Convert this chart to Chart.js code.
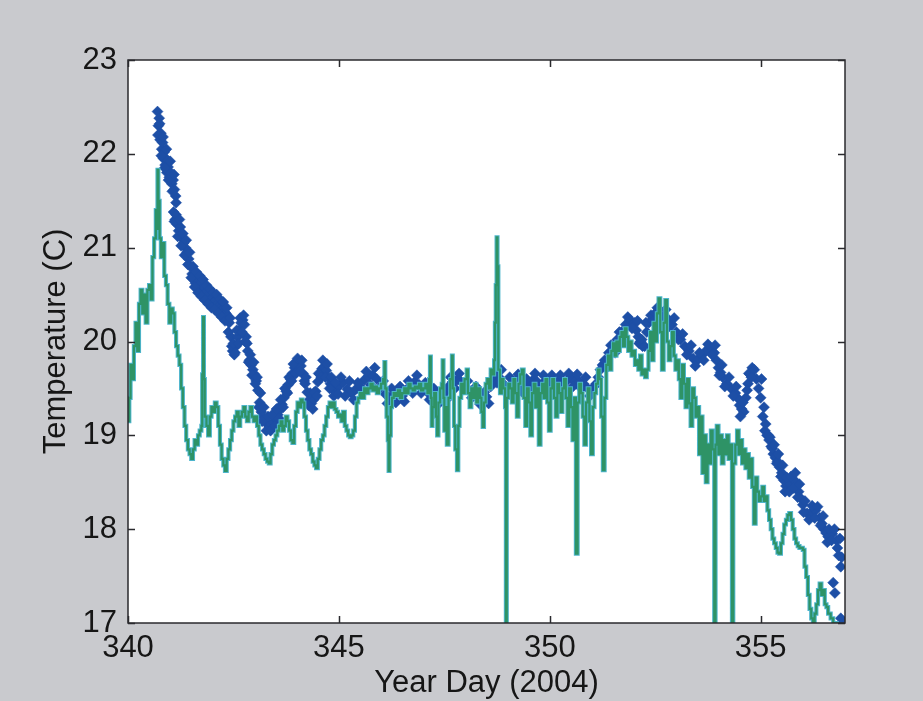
<!DOCTYPE html>
<html>
<head>
<meta charset="utf-8">
<title>Temperature, Year Day 2004</title>
<script src="https://cdn.jsdelivr.net/npm/chart.js@4.4.1/dist/chart.umd.min.js"></script>
<style>
  html, body { margin: 0; padding: 0; background: #c9cace; overflow: hidden; }
  #wrap { width: 923px; height: 701px; position: relative; }
</style>
</head>
<body>
<div id="wrap"><canvas id="chart"></canvas></div>
<script>
// Axis tick values
const xTickValues = [340, 345, 350, 355];
const yTickValues = [17, 18, 19, 20, 21, 22, 23];

// Sensor 1 (dots), first pass of samples: year day and temperature
const blueDay = [
  340.70, 340.72, 340.74, 340.76, 340.78, 340.80, 340.82, 340.84, 340.86, 340.88,
  340.90, 340.92, 340.95, 340.98, 341.01, 341.04, 341.07, 341.10, 341.13, 341.08,
  341.12, 341.16, 341.20, 341.24, 341.28, 341.32, 341.36, 341.40, 341.44, 341.48,
  341.52, 341.56, 341.60, 341.64, 341.68, 341.72, 341.76, 341.80, 341.84, 341.88,
  341.92, 341.96, 342.00, 342.04, 342.08, 342.12, 342.16, 342.20, 342.24, 342.28,
  342.32, 342.36, 342.40, 342.44, 342.48, 342.52, 342.56, 342.60, 342.64, 342.68,
  342.72, 342.76, 342.80, 342.84, 342.88, 342.92, 342.96, 343.00, 343.04, 343.08,
  343.12, 343.16, 343.20, 343.25, 343.30, 343.35, 343.40, 343.45, 343.50, 343.55,
  343.60, 343.65, 343.70, 343.75, 343.80, 343.85, 343.90, 343.95, 344.00, 344.05,
  344.10, 344.15, 344.20, 344.25, 344.30, 344.35, 344.40, 344.45, 344.50, 344.55,
  344.60, 344.65, 344.70, 344.75, 344.80, 344.85, 344.90, 344.95, 345.00, 345.10,
  345.20, 345.30, 345.40, 345.50, 345.60, 345.70, 345.80, 345.90, 346.00, 346.10,
  346.20, 346.30, 346.40, 346.50, 346.60, 346.70, 346.80, 346.90, 347.00, 347.10,
  347.20, 347.30, 347.40, 347.50, 347.60, 347.70, 347.80, 347.90, 348.00, 348.10,
  348.20, 348.30, 348.40, 348.50, 348.60, 348.70, 348.80, 348.90, 349.00, 349.10,
  349.20, 349.30, 349.40, 349.50, 349.60, 349.70, 349.80, 349.90, 350.00, 350.10,
  350.20, 350.30, 350.40, 350.50, 350.60, 350.70, 350.80, 350.90, 351.00, 351.10,
  351.15, 351.20, 351.25, 351.30, 351.40, 351.50, 351.60, 351.70, 351.80, 351.90,
  352.00, 352.05, 352.10, 352.15, 352.20, 352.30, 352.35, 352.40, 352.50, 352.60,
  352.70, 352.80, 352.90, 353.00, 353.10, 353.20, 353.30, 353.40, 353.50, 353.60,
  353.70, 353.80, 353.90, 353.95, 354.00, 354.05, 354.10, 354.20, 354.30, 354.40,
  354.45, 354.50, 354.55, 354.60, 354.65, 354.70, 354.75, 354.80, 354.90, 355.00,
  355.05, 355.10, 355.15, 355.20, 355.25, 355.30, 355.35, 355.40, 355.45, 355.50,
  355.55, 355.60, 355.70, 355.80, 355.90, 355.95, 356.00, 356.10, 356.20, 356.30,
  356.40, 356.45, 356.50, 356.55, 356.60, 356.70, 356.72, 356.76, 356.80, 356.85,
  356.90, 356.90, 356.96
];
const blueTemp = [
  22.45, 22.30, 22.38, 22.15, 22.22, 22.05, 22.12, 21.95, 22.02, 21.88,
  21.95, 21.80, 21.86, 21.75, 21.80, 21.68, 21.72, 21.62, 21.55, 21.38,
  21.30, 21.25, 21.18, 21.22, 21.10, 21.05, 21.00, 20.95, 20.88, 20.80,
  20.72, 20.68, 20.62, 20.65, 20.58, 20.62, 20.55, 20.58, 20.52, 20.48,
  20.50, 20.45, 20.47, 20.42, 20.44, 20.40, 20.38, 20.36, 20.34, 20.32,
  20.30, 20.27, 20.20, 20.05, 19.90, 19.86, 19.95, 20.05, 20.12, 20.20,
  20.23, 20.18, 20.05, 19.90, 19.80, 19.75, 19.70, 19.65, 19.58, 19.48,
  19.35, 19.25, 19.20, 19.15, 19.12, 19.09, 19.12, 19.14, 19.18, 19.22,
  19.27, 19.33, 19.40, 19.47, 19.54, 19.60, 19.66, 19.72, 19.75, 19.77,
  19.74, 19.66, 19.55, 19.46, 19.38, 19.34, 19.38, 19.47, 19.57, 19.65,
  19.71, 19.73, 19.69, 19.62, 19.55, 19.50, 19.47, 19.50, 19.53, 19.56,
  19.49, 19.45, 19.49, 19.52, 19.59, 19.63, 19.64, 19.60, 19.52, 19.44,
  19.40, 19.43, 19.45, 19.42, 19.48, 19.53, 19.57, 19.54, 19.50, 19.46,
  19.44, 19.41, 19.40, 19.45, 19.52, 19.57, 19.59, 19.57, 19.52, 19.47,
  19.45, 19.42, 19.38, 19.41, 19.52, 19.66, 19.62, 19.55, 19.51, 19.55,
  19.58, 19.54, 19.50, 19.55, 19.59, 19.57, 19.54, 19.58, 19.56, 19.54,
  19.58, 19.55, 19.58, 19.61, 19.58, 19.57, 19.55, 19.50, 19.45, 19.55,
  19.62, 19.70, 19.75, 19.80, 19.88, 19.95, 20.02, 20.10, 20.18, 20.23,
  20.20, 20.12, 20.05, 20.00, 19.95, 20.10, 20.20, 20.28, 20.30, 20.28,
  20.27, 20.24, 20.18, 20.10, 20.02, 19.95, 19.90, 19.82, 19.80, 19.85,
  19.90, 19.94, 19.88, 19.80, 19.72, 19.67, 19.62, 19.55, 19.50, 19.45,
  19.40, 19.32, 19.28, 19.25, 19.40, 19.55, 19.65, 19.72, 19.60, 19.40,
  19.20, 19.05, 19.00, 18.95, 18.88, 18.80, 18.76, 18.72, 18.66, 18.60,
  18.52, 18.46, 18.48, 18.52, 18.40, 18.33, 18.26, 18.17, 18.18, 18.20,
  18.12, 18.06, 18.00, 17.96, 17.92, 17.95, 17.43, 17.32, 17.88, 17.72,
  17.60, 17.05, 17.00
];

// Sensor 1 (dots), interleaved second pass of samples
const blueDayB = [
  340.71, 340.75, 340.79, 340.83, 340.87, 340.91, 340.96, 341.00, 341.05, 341.09,
  341.14, 341.10, 341.14, 341.18, 341.22, 341.26, 341.30, 341.34, 341.38, 341.42,
  341.46, 341.50, 341.54, 341.58, 341.62, 341.66, 341.70, 341.74, 341.78, 341.82,
  341.86, 341.90, 341.94, 341.98, 342.02, 342.06, 342.10, 342.14, 342.18, 342.22,
  342.26, 342.30, 342.34, 342.38, 342.42, 342.46, 342.50, 342.54, 342.58, 342.62,
  342.66, 342.70, 342.74, 342.78, 342.82, 342.86, 342.90, 342.94, 342.98, 343.02,
  343.06, 343.10, 343.14, 343.18, 343.22, 343.28, 343.32, 343.38, 343.42, 343.48,
  343.52, 343.58, 343.62, 343.68, 343.72, 343.78, 343.82, 343.88, 343.92, 343.98,
  344.02, 344.08, 344.12, 344.18, 344.22, 344.28, 344.32, 344.38, 344.42, 344.48,
  344.52, 344.58, 344.62, 344.68, 344.72, 344.78, 344.82, 344.88, 344.92, 344.98,
  345.05, 345.15, 345.25, 345.35, 345.45, 345.55, 345.65, 345.75, 345.85, 345.95,
  346.05, 346.15, 346.25, 346.35, 346.45, 346.55, 346.65, 346.75, 346.85, 346.95,
  347.05, 347.15, 347.25, 347.35, 347.45, 347.55, 347.65, 347.75, 347.85, 347.95,
  348.05, 348.15, 348.25, 348.35, 348.45, 348.55, 348.65, 348.75, 348.85, 348.95,
  349.05, 349.15, 349.25, 349.35, 349.45, 349.55, 349.65, 349.75, 349.85, 349.95,
  350.05, 350.15, 350.25, 350.35, 350.45, 350.55, 350.65, 350.75, 350.85, 350.95,
  351.05, 351.35, 351.45, 351.55, 351.65, 351.75, 351.85, 351.95, 352.08, 352.12,
  352.18, 352.25, 352.28, 352.45, 352.55, 352.65, 352.75, 352.85, 352.95, 353.05,
  353.15, 353.25, 353.35, 353.45, 353.55, 353.65, 353.75, 353.85, 353.92, 354.02,
  354.08, 354.15, 354.25, 354.35, 354.42, 354.52, 354.58, 354.68, 354.72, 354.78,
  354.85, 354.95, 355.02, 355.08, 355.12, 355.18, 355.22, 355.28, 355.32, 355.38,
  355.42, 355.48, 355.52, 355.58, 355.62, 355.68, 355.72, 355.78, 355.82, 355.88,
  355.92, 356.02, 356.05, 356.15, 356.22, 356.28, 356.35, 356.42, 356.48, 356.58,
  356.62, 356.68, 356.75, 356.82, 356.88, 356.92
];
const blueTempB = [
  22.20, 22.32, 21.98, 22.18, 21.85, 22.05, 21.72, 21.92, 21.60, 21.78,
  21.48, 21.28, 21.35, 21.12, 21.30, 21.02, 21.15, 20.92, 21.08, 20.82,
  20.95, 20.68, 20.80, 20.58, 20.74, 20.52, 20.70, 20.48, 20.66, 20.44,
  20.60, 20.40, 20.56, 20.36, 20.52, 20.34, 20.50, 20.30, 20.45, 20.26,
  20.42, 20.22, 20.36, 20.10, 20.25, 19.95, 19.98, 19.88, 20.12, 19.98,
  20.25, 20.10, 20.28, 20.00, 19.98, 19.78, 19.86, 19.64, 19.78, 19.55,
  19.62, 19.30, 19.45, 19.15, 19.30, 19.05, 19.20, 19.05, 19.22, 19.10,
  19.28, 19.18, 19.38, 19.30, 19.50, 19.45, 19.62, 19.58, 19.76, 19.66,
  19.82, 19.68, 19.80, 19.58, 19.62, 19.32, 19.45, 19.28, 19.46, 19.42,
  19.66, 19.62, 19.80, 19.62, 19.76, 19.50, 19.62, 19.42, 19.56, 19.44,
  19.62, 19.42, 19.58, 19.38, 19.56, 19.46, 19.68, 19.54, 19.72, 19.50,
  19.58, 19.34, 19.50, 19.35, 19.52, 19.36, 19.58, 19.45, 19.64, 19.45,
  19.56, 19.38, 19.50, 19.33, 19.48, 19.38, 19.62, 19.50, 19.66, 19.50,
  19.58, 19.40, 19.52, 19.33, 19.46, 19.34, 19.60, 19.56, 19.70, 19.46,
  19.62, 19.47, 19.65, 19.46, 19.60, 19.48, 19.66, 19.48, 19.64, 19.50,
  19.64, 19.48, 19.64, 19.50, 19.66, 19.52, 19.65, 19.50, 19.62, 19.42,
  19.52, 19.72, 19.96, 19.88, 20.10, 20.02, 20.26, 20.14, 20.22, 19.98,
  20.02, 19.95, 20.20, 20.22, 20.36, 20.20, 20.34, 20.16, 20.25, 20.02,
  20.08, 19.86, 19.96, 19.74, 19.88, 19.80, 19.97, 19.86, 19.96, 19.64,
  19.75, 19.52, 19.62, 19.42, 19.52, 19.20, 19.35, 19.48, 19.66, 19.62,
  19.70, 19.50, 19.60, 19.30, 19.12, 19.00, 18.98, 18.86, 18.90, 18.70,
  18.80, 18.56, 18.68, 18.40, 18.55, 18.40, 18.56, 18.44, 18.60, 18.34,
  18.48, 18.18, 18.30, 18.10, 18.25, 18.12, 18.24, 18.04, 18.14, 17.86,
  18.00, 17.88, 18.00, 17.80, 17.90, 17.70
];

// Sensor 2 (line): year day and temperature
const greenDay = [
  340.00, 340.03, 340.06, 340.10, 340.14, 340.18, 340.22, 340.26, 340.30, 340.34,
  340.38, 340.42, 340.46, 340.50, 340.54, 340.58, 340.62, 340.66, 340.68, 340.70,
  340.72, 340.75, 340.78, 340.82, 340.86, 340.90, 340.94, 340.98, 341.02, 341.06,
  341.10, 341.14, 341.18, 341.22, 341.26, 341.30, 341.34, 341.38, 341.42, 341.46,
  341.50, 341.54, 341.58, 341.62, 341.66, 341.70, 341.74, 341.76, 341.78, 341.80,
  341.82, 341.86, 341.90, 341.94, 341.98, 342.02, 342.06, 342.10, 342.14, 342.18,
  342.22, 342.26, 342.30, 342.34, 342.38, 342.42, 342.46, 342.50, 342.54, 342.58,
  342.62, 342.66, 342.70, 342.74, 342.78, 342.82, 342.86, 342.90, 342.94, 342.98,
  343.02, 343.06, 343.10, 343.14, 343.18, 343.22, 343.26, 343.30, 343.34, 343.38,
  343.42, 343.46, 343.50, 343.54, 343.58, 343.62, 343.66, 343.70, 343.74, 343.78,
  343.82, 343.86, 343.90, 343.94, 343.98, 344.02, 344.06, 344.10, 344.14, 344.18,
  344.22, 344.26, 344.30, 344.34, 344.38, 344.42, 344.46, 344.50, 344.54, 344.58,
  344.62, 344.66, 344.70, 344.74, 344.78, 344.82, 344.86, 344.90, 344.94, 344.98,
  345.02, 345.06, 345.10, 345.14, 345.18, 345.22, 345.26, 345.30, 345.34, 345.38,
  345.42, 345.46, 345.50, 345.55, 345.60, 345.65, 345.70, 345.75, 345.80, 345.85,
  345.90, 345.95, 346.00, 346.05, 346.08, 346.10, 346.13, 346.16, 346.18, 346.20,
  346.23, 346.26, 346.30, 346.35, 346.40, 346.45, 346.50, 346.55, 346.60, 346.65,
  346.70, 346.75, 346.80, 346.85, 346.90, 346.95, 347.00, 347.05, 347.10, 347.14,
  347.16, 347.18, 347.20, 347.22, 347.26, 347.30, 347.33, 347.36, 347.40, 347.44,
  347.46, 347.48, 347.50, 347.53, 347.56, 347.60, 347.64, 347.68, 347.70, 347.73,
  347.76, 347.80, 347.83, 347.86, 347.90, 347.94, 347.98, 348.03, 348.06, 348.10,
  348.14, 348.18, 348.22, 348.26, 348.30, 348.35, 348.38, 348.41, 348.44, 348.48,
  348.52, 348.56, 348.60, 348.64, 348.68, 348.70, 348.72, 348.74, 348.76, 348.78,
  348.82, 348.86, 348.90, 348.94, 348.96, 348.98, 349.02, 349.06, 349.10, 349.14,
  349.18, 349.22, 349.26, 349.30, 349.34, 349.38, 349.42, 349.46, 349.50, 349.54,
  349.58, 349.62, 349.66, 349.70, 349.74, 349.78, 349.82, 349.86, 349.90, 349.94,
  349.98, 350.02, 350.06, 350.10, 350.14, 350.18, 350.22, 350.26, 350.30, 350.34,
  350.38, 350.42, 350.46, 350.50, 350.54, 350.58, 350.62, 350.66, 350.70, 350.74,
  350.78, 350.82, 350.86, 350.90, 350.94, 350.98, 351.02, 351.06, 351.10, 351.14,
  351.18, 351.22, 351.26, 351.30, 351.34, 351.38, 351.42, 351.46, 351.50, 351.54,
  351.58, 351.62, 351.66, 351.70, 351.74, 351.78, 351.82, 351.86, 351.90, 351.94,
  351.98, 352.02, 352.06, 352.10, 352.14, 352.18, 352.22, 352.26, 352.30, 352.34,
  352.38, 352.42, 352.46, 352.50, 352.54, 352.58, 352.62, 352.66, 352.70, 352.74,
  352.78, 352.82, 352.86, 352.90, 352.94, 352.98, 353.02, 353.06, 353.10, 353.14,
  353.18, 353.22, 353.26, 353.30, 353.34, 353.38, 353.42, 353.46, 353.50, 353.54,
  353.58, 353.62, 353.66, 353.70, 353.74, 353.78, 353.82, 353.86, 353.90, 353.93,
  353.96, 354.00, 354.04, 354.08, 354.12, 354.16, 354.20, 354.24, 354.28, 354.32,
  354.35, 354.40, 354.44, 354.48, 354.52, 354.56, 354.60, 354.64, 354.68, 354.72,
  354.76, 354.80, 354.84, 354.88, 354.92, 354.96, 355.00, 355.04, 355.08, 355.12,
  355.16, 355.20, 355.24, 355.28, 355.32, 355.36, 355.40, 355.44, 355.48, 355.52,
  355.56, 355.60, 355.64, 355.68, 355.72, 355.76, 355.80, 355.84, 355.88, 355.92,
  355.96, 356.00, 356.04, 356.08, 356.12, 356.16, 356.20, 356.24, 356.28, 356.32,
  356.36, 356.40, 356.44, 356.48, 356.52, 356.56, 356.60, 356.66, 356.72, 356.85
];
const greenTemp = [
  19.15, 19.40, 19.75, 19.60, 19.95, 20.20, 19.90, 20.40, 20.55, 20.30,
  20.50, 20.20, 20.55, 20.60, 20.45, 20.90, 21.10, 21.40, 21.20, 21.83,
  21.50, 21.10, 20.90, 21.05, 20.70, 20.60, 20.40, 20.20, 20.35, 20.30,
  20.10, 19.95, 19.85, 19.75, 19.50, 19.30, 19.10, 18.95, 18.85, 18.80,
  18.75, 18.85, 18.95, 18.90, 19.00, 19.05, 19.10, 19.65, 20.26, 19.60,
  19.20, 19.10, 19.00, 19.20, 19.30, 19.25, 19.35, 19.30, 19.10, 18.90,
  18.75, 18.68, 18.62, 18.75, 18.85, 18.95, 19.05, 19.15, 19.20, 19.25,
  19.10, 19.20, 19.25, 19.30, 19.20, 19.15, 19.25, 19.30, 19.20, 19.15,
  19.20, 19.10, 19.00, 18.90, 18.85, 18.80, 18.75, 18.72, 18.70, 18.80,
  18.90, 18.95, 19.00, 19.05, 19.10, 19.15, 19.05, 19.10, 19.20, 19.15,
  19.05, 18.95, 18.92, 19.10, 19.25, 19.35, 19.30, 19.38, 19.35, 19.20,
  19.05, 18.95, 18.85, 18.80, 18.72, 18.68, 18.65, 18.75, 18.85, 18.95,
  19.00, 19.10, 19.20, 19.30, 19.35, 19.30, 19.35, 19.28, 19.25, 19.20,
  19.22, 19.15, 19.25, 19.10, 19.05, 19.00, 18.98, 19.00, 19.05, 19.20,
  19.35, 19.40, 19.45, 19.40, 19.50, 19.45, 19.50, 19.55, 19.48, 19.52,
  19.45, 19.50, 19.55, 19.60, 19.78, 19.50, 19.20, 18.95, 18.62, 19.00,
  19.30, 19.40, 19.45, 19.42, 19.48, 19.40, 19.45, 19.50, 19.45, 19.55,
  19.50, 19.48, 19.52, 19.50, 19.55, 19.48, 19.50, 19.55, 19.45, 19.60,
  19.84, 19.40, 19.10, 19.30, 19.45, 19.20, 19.00, 19.35, 19.50, 19.55,
  19.80, 19.40, 19.05, 19.30, 18.90, 19.40, 19.60, 19.85, 19.50, 19.10,
  18.85, 18.63, 19.10, 19.40, 19.55, 19.45, 19.60, 19.70, 19.45, 19.30,
  19.50, 19.40, 19.55, 19.35, 19.50, 19.40, 19.25, 19.09, 19.35, 19.55,
  19.60, 19.50, 19.70, 19.65, 19.80, 20.20, 20.60, 21.11, 20.80, 19.70,
  19.45, 19.60, 19.50, 19.30, 17.00, 19.40, 19.55, 19.50, 19.35, 19.60,
  19.45, 19.20, 19.55, 19.65, 19.70, 19.40, 19.10, 19.50, 19.35, 19.00,
  19.45, 19.55, 19.30, 19.50, 18.90, 19.45, 19.55, 19.40, 19.60, 19.35,
  19.05, 19.50, 19.60, 19.40, 19.20, 19.55, 19.45, 19.25, 19.50, 19.60,
  19.40, 19.10, 19.50, 19.30, 18.95, 19.40, 17.74, 19.35, 19.55, 19.45,
  19.20, 18.90, 19.35, 19.50, 19.15, 18.80, 19.30, 19.45, 19.55, 19.70,
  19.60, 19.20, 18.63, 19.40, 19.75, 19.85, 19.70, 19.90, 19.98, 19.85,
  20.00, 19.90, 20.05, 20.10, 19.95, 20.14, 20.05, 19.90, 20.00, 19.85,
  19.90, 19.75, 19.80, 19.70, 19.85, 19.65, 19.70, 19.62, 19.70, 19.90,
  20.10, 19.80, 20.20, 20.00, 20.30, 20.46, 20.10, 19.70, 20.20, 20.44,
  20.00, 19.80, 19.95, 20.10, 19.85, 19.70, 19.80, 19.60, 19.40, 19.75,
  19.55, 19.30, 19.60, 19.34, 19.10, 19.50, 19.40, 19.20, 19.30, 18.80,
  19.20, 18.60, 19.00, 18.50, 18.90, 18.70, 19.05, 18.85, 17.00, 18.90,
  19.10, 18.80, 19.00, 18.70, 18.95, 18.80, 19.00, 18.75, 18.90, 17.00,
  18.70, 18.90, 19.05, 18.80, 18.95, 18.70, 18.85, 18.65, 18.80, 18.55,
  18.75, 18.45, 18.06, 18.55, 18.40, 18.30, 18.35, 18.45, 18.30, 18.35,
  18.20, 18.10, 18.00, 17.90, 17.85, 17.80, 17.75, 17.74, 17.85, 17.95,
  18.05, 18.10, 18.15, 18.17, 18.10, 18.00, 17.90, 17.85, 17.82, 17.80,
  17.80, 17.78, 17.60, 17.49, 17.30, 17.15, 17.05, 17.00, 17.10, 17.20,
  17.35, 17.42, 17.30, 17.35, 17.20, 17.17, 17.10, 17.05, 17.00, 17.00
];

const toPoints = (days, temps) => days.map((d, i) => ({ x: d, y: temps[i] }));
const bluePoints = toPoints(blueDay, blueTemp).concat(toPoints(blueDayB, blueTempB));
const greenPoints = toPoints(greenDay, greenTemp);

const FONT = '"Liberation Sans", Arial, Helvetica, sans-serif';
const INK = '#161616';

// Gray page, white plot box, dark frame and inward tick marks on all four sides
const framePlugin = {
  id: 'frame',
  beforeDraw(chart) {
    const { ctx, chartArea: a } = chart;
    ctx.save();
    ctx.fillStyle = '#c9cace';
    ctx.fillRect(0, 0, chart.width, chart.height);
    ctx.fillStyle = '#ffffff';
    ctx.fillRect(a.left, a.top, a.right - a.left, a.bottom - a.top);
    ctx.restore();
  },
  afterDatasetsDraw(chart) {
    const { ctx, chartArea: a, scales } = chart;
    const len = 7;
    ctx.save();
    ctx.strokeStyle = '#2a2a2e';
    ctx.lineWidth = 1.5;
    ctx.strokeRect(a.left, a.top, a.right - a.left, a.bottom - a.top);
    ctx.beginPath();
    xTickValues.forEach(v => {
      const px = Math.round(scales.x.getPixelForValue(v)) + 0.5;
      ctx.moveTo(px, a.bottom); ctx.lineTo(px, a.bottom - len);
      ctx.moveTo(px, a.top); ctx.lineTo(px, a.top + len);
    });
    yTickValues.forEach(v => {
      const py = Math.round(scales.y.getPixelForValue(v)) + 0.5;
      ctx.moveTo(a.left, py); ctx.lineTo(a.left + len, py);
      ctx.moveTo(a.right, py); ctx.lineTo(a.right - len, py);
    });
    ctx.stroke();
    ctx.restore();
  }
};

new Chart(document.getElementById('chart'), {
  type: 'scatter',
  data: {
    datasets: [
      {
        label: 'Sensor 2',
        data: greenPoints,
        showLine: true,
        stepped: true,
        borderColor: '#2e9366',
        borderWidth: 2.2,
        pointRadius: 0,
        order: 0
      },
      {
        label: 'Sensor 2 edge',
        data: greenPoints,
        showLine: true,
        stepped: true,
        borderColor: '#4db5cc',
        borderWidth: 4.2,
        pointRadius: 0,
        order: 1
      },
      {
        label: 'Sensor 1',
        data: bluePoints,
        showLine: false,
        pointStyle: 'rectRot',
        pointRadius: 5.5,
        pointBackgroundColor: '#1d4fa6',
        pointBorderColor: '#1d4fa6',
        pointBorderWidth: 0.5,
        order: 2
      }
    ]
  },
  options: {
    responsive: true,
    maintainAspectRatio: false,
    animation: false,
    events: [],
    layout: { padding: { top: 60, right: 78, left: 0, bottom: 0 } },
    plugins: { legend: { display: false }, tooltip: { enabled: false } },
    scales: {
      x: {
        type: 'linear',
        min: 340,
        max: 357,
        afterBuildTicks(scale) { scale.ticks = xTickValues.map(v => ({ value: v })); },
        afterFit(scale) { scale.height = 78; },
        grid: { display: false, drawTicks: false },
        border: { display: false },
        ticks: {
          color: INK,
          padding: 10,
          maxRotation: 0,
          font: { family: FONT, size: 31, lineHeight: 1 }
        },
        title: {
          display: true,
          text: 'Year Day (2004)',
          color: INK,
          padding: { top: 0, bottom: 2 },
          font: { family: FONT, size: 31, lineHeight: 1 }
        }
      },
      y: {
        type: 'linear',
        min: 17,
        max: 23,
        afterBuildTicks(scale) { scale.ticks = yTickValues.map(v => ({ value: v })); },
        afterFit(scale) { scale.width = 128; },
        grid: { display: false, drawTicks: false },
        border: { display: false },
        ticks: {
          color: INK,
          padding: 11,
          font: { family: FONT, size: 31, lineHeight: 1 }
        },
        title: {
          display: true,
          text: 'Temperature (C)',
          color: INK,
          padding: { top: 41, bottom: 0 },
          font: { family: FONT, size: 31, lineHeight: 1 }
        }
      }
    }
  },
  plugins: [framePlugin]
});
</script>
</body>
</html>
